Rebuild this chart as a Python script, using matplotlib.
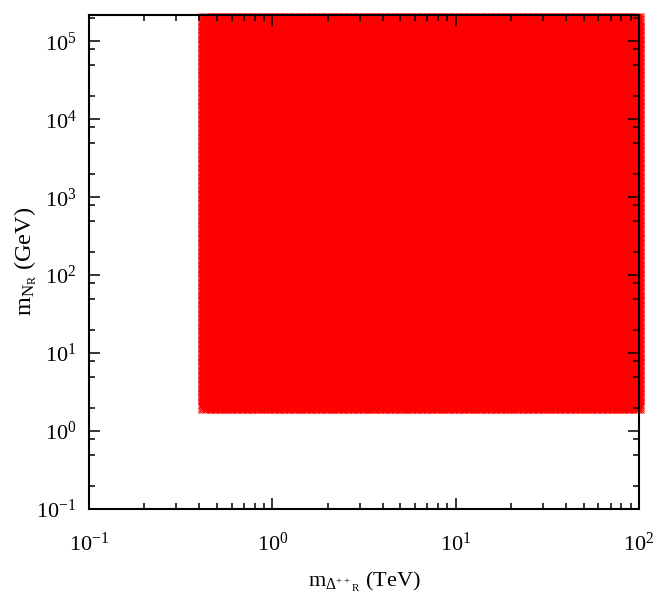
import numpy as np
import matplotlib
matplotlib.use("Agg")
import matplotlib.pyplot as plt
from matplotlib.ticker import LogLocator, NullFormatter, FixedLocator

# Scanned parameter region
m_delta_range_tev = [0.42, 100.0]    # doubly-charged scalar mass m_Delta++_R
m_n_range_gev = [2.0, 2.0e5]         # right-handed neutrino mass m_N_R
n_delta_points = 260
n_n_points = 240

# Axis limits and decade tick labels
x_limits = [0.1, 100.0]
y_limits = [0.1, 2.2e5]
x_major = [0.1, 1.0, 10.0, 100.0]
y_major = [0.1, 1.0, 10.0, 1e2, 1e3, 1e4, 1e5]
y_minor_mantissas = [2.0, 5.0, 8.0]

plt.rcParams["font.family"] = ["Liberation Serif", "DejaVu Serif"]
plt.rcParams["mathtext.fontset"] = "custom"
plt.rcParams["mathtext.rm"] = "Liberation Serif"
plt.rcParams["mathtext.it"] = "Liberation Serif:italic"
plt.rcParams["mathtext.bf"] = "Liberation Serif:bold"

# Log-uniform scan grid over the allowed region
md = np.geomspace(m_delta_range_tev[0], m_delta_range_tev[1], n_delta_points)
mn = np.geomspace(m_n_range_gev[0], m_n_range_gev[1], n_n_points)
MD, MN = np.meshgrid(md, mn)

fig = plt.figure(figsize=(6.55, 5.94), dpi=100)
ax = fig.add_axes([0.1359, 0.1431, 0.8397, 0.8322])

ax.plot(MD.ravel(), MN.ravel(), linestyle="none", marker="x", color="#ff0000",
        markersize=7.5, markeredgewidth=0.8, clip_on=False, zorder=1)

ax.set_xscale("log")
ax.set_yscale("log")
ax.set_xlim(*x_limits)
ax.set_ylim(*y_limits)

ax.xaxis.set_major_locator(FixedLocator(x_major))
ax.xaxis.set_minor_locator(LogLocator(base=10, subs=np.arange(2, 10)))
ax.xaxis.set_minor_formatter(NullFormatter())

ax.yaxis.set_major_locator(FixedLocator(y_major))
y_minor = [m * d for d in [0.1, 1, 10, 1e2, 1e3, 1e4, 1e5] for m in y_minor_mantissas]
ax.yaxis.set_minor_locator(FixedLocator(y_minor))
ax.yaxis.set_minor_formatter(NullFormatter())

ax.tick_params(which="both", direction="in", top=True, right=True,
               labelsize=16, colors="black")
ax.tick_params(which="major", length=8, width=1.1)
ax.tick_params(which="minor", length=4.5, width=1.1)
ax.tick_params(axis="x", which="major", pad=17)
ax.tick_params(axis="y", which="major", pad=9)
for sp in ax.spines.values():
    sp.set_linewidth(1.5)
    sp.set_zorder(3)

ax.set_xlabel(r"$\mathregular{m}_{\Delta^{++}{}_{\mathregular{R}}}$ (TeV)", fontsize=16, labelpad=10)
ax.set_ylabel(r"$\mathregular{m}_{\mathregular{N}_{\mathregular{R}}}$ (GeV)", fontsize=17.5, labelpad=-2)

fig.savefig("out.png", dpi=100)
